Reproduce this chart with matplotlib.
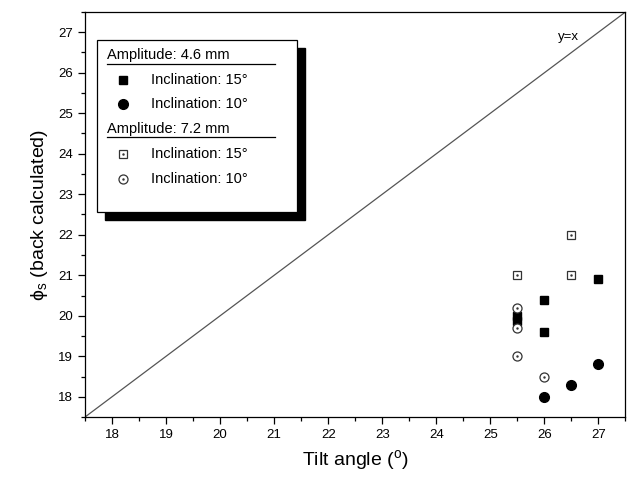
import matplotlib
matplotlib.use("Agg")
import matplotlib.pyplot as plt
from matplotlib.patches import Rectangle

plt.rcParams["font.family"] = ["Liberation Sans", "DejaVu Sans"]
plt.rcParams["mathtext.fontset"] = "custom"
plt.rcParams["mathtext.rm"] = "Liberation Sans"
plt.rcParams["mathtext.it"] = "Liberation Sans:italic"

# =====================================================
# Data
# =====================================================

# Amplitude 4.6 mm
a46_i15_x = [25.5, 25.5, 26.0, 26.0, 27.0]
a46_i15_y = [20.0, 19.88, 20.4, 19.6, 20.9]
a46_i10_x = [26.0, 26.5, 27.0]
a46_i10_y = [18.0, 18.3, 18.8]

# Amplitude 7.2 mm
a72_i15_x = [25.5, 26.5, 26.5]
a72_i15_y = [21.0, 22.0, 21.0]
a72_i10_x = [25.5, 25.5, 25.5, 26.0]
a72_i10_y = [20.2, 19.7, 19.0, 18.5]

xticks = [18, 19, 20, 21, 22, 23, 24, 25, 26, 27]
yticks = [18, 19, 20, 21, 22, 23, 24, 25, 26, 27]

# =====================================================
# Plot
# =====================================================

fig = plt.figure(figsize=(6.27, 4.87), dpi=100)
ax = fig.add_axes([0.1356, 0.1437, 0.862, 0.8317])

ax.axline((18, 18), slope=1, color="#555555", lw=0.9, zorder=1)
ax.text(26.25, 26.82, "y=x", fontsize=9.5)


def open_marker(x, y, marker, size):
    ax.plot(x, y, marker, ls="none", mfc="white", mec="#333333",
            ms=size, mew=0.9, zorder=3)
    ax.plot(x, y, ".", ls="none", color="#333333", ms=1.5, zorder=4)


ax.plot(a46_i15_x, a46_i15_y, "s", ls="none", color="black", ms=6.3, zorder=3)
ax.plot(a46_i10_x, a46_i10_y, "o", ls="none", color="black", ms=7, zorder=3)
open_marker(a72_i15_x, a72_i15_y, "s", 6)
open_marker(a72_i10_x, a72_i10_y, "o", 6.5)

ax.set_xlim(17.5, 27.38)
ax.set_ylim(17.5, 27.42)
ax.set_xticks(xticks)
ax.set_yticks(yticks)
ax.set_xticks([t + 0.5 for t in [17] + xticks], minor=True)
ax.set_yticks([t + 0.5 for t in [17] + yticks], minor=True)
ax.tick_params(which="major", direction="out", length=5, width=0.9, labelsize=9.5)
ax.tick_params(which="minor", direction="out", length=3, width=0.9)
for s in ax.spines.values():
    s.set_linewidth(0.9)

ax.set_xlabel("Tilt angle ($^{\\rm o}$)", fontsize=14, labelpad=5)
ax.set_ylabel("ϕ$_{\\rm s}$ (back calculated)", fontsize=14, labelpad=6)

# =====================================================
# Legend box (drawn by hand, with shadow)
# =====================================================

bx0, by0, bw, bh = 0.022, 0.506, 0.370, 0.425
sh_x, sh_y = 0.015, -0.02
ax.add_patch(Rectangle((bx0 + sh_x, by0 + sh_y), bw, bh, transform=ax.transAxes,
                       facecolor="black", edgecolor="black", zorder=5))
ax.add_patch(Rectangle((bx0, by0), bw, bh, transform=ax.transAxes,
                       facecolor="white", edgecolor="black", lw=0.9, zorder=6))

rows = [
    ("head", "Amplitude: 4.6 mm", None),
    ("item", "Inclination: 15°", "fs"),
    ("item", "Inclination: 10°", "fo"),
    ("head", "Amplitude: 7.2 mm", None),
    ("item", "Inclination: 15°", "os"),
    ("item", "Inclination: 10°", "oo"),
]
row_y = [0.893, 0.831, 0.772, 0.712, 0.649, 0.588]
for (kind, label, mk), yy in zip(rows, row_y):
    if kind == "head":
        ax.text(0.04, yy, label, transform=ax.transAxes, fontsize=10.5,
                va="center", zorder=7)
        ax.plot([0.04, 0.352], [yy - 0.021, yy - 0.021], transform=ax.transAxes,
                color="black", lw=0.9, zorder=7, clip_on=False)
    else:
        ax.text(0.122, yy, label, transform=ax.transAxes, fontsize=10.5,
                va="center", zorder=7)
        filled = mk[0] == "f"
        m = mk[1]
        if filled:
            ax.plot([0.071], [yy], m, transform=ax.transAxes, color="black",
                    ms=6.3 if m == "s" else 7, zorder=7)
        else:
            ax.plot([0.071], [yy], m, transform=ax.transAxes, mfc="white",
                    mec="#333333", mew=0.9, ms=6 if m == "s" else 6.5, zorder=7)
            ax.plot([0.071], [yy], ".", transform=ax.transAxes, color="#333333",
                    ms=1.5, zorder=8)

fig.savefig("out.png", dpi=100)
